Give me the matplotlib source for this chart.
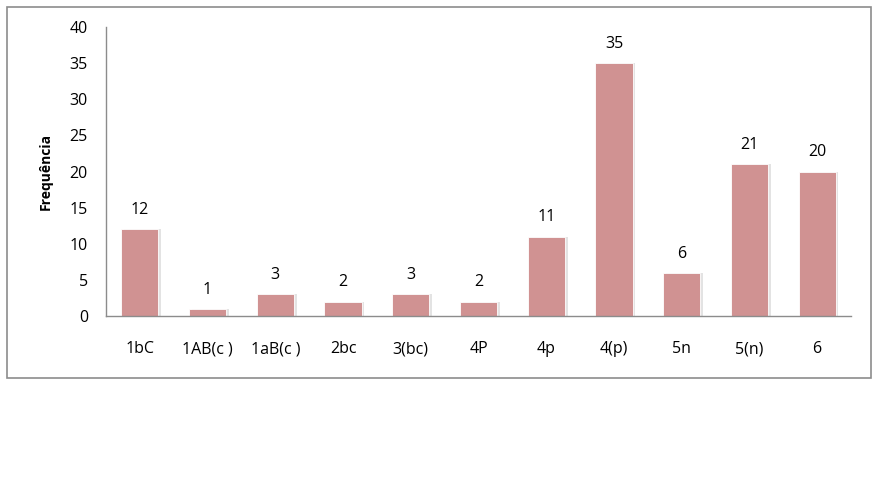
import numpy as np
import matplotlib
matplotlib.use("Agg")
import matplotlib.pyplot as plt
from matplotlib.patches import Rectangle

categories = ["1bC", "1AB(c )", "1aB(c )", "2bc", "3(bc)", "4P", "4p", "4(p)", "5n", "5(n)", "6"]
values = [12, 1, 3, 2, 3, 2, 11, 35, 6, 21, 20]
yticks = [0, 5, 10, 15, 20, 25, 30, 35, 40]

plt.rcParams['font.family'] = ['Open Sans', 'DejaVu Sans']

W, H = 878, 503
fig = plt.figure(figsize=(W / 100, H / 100), dpi=100)
fig.patch.set_facecolor('white')

# outer chart border
fig.patches.append(Rectangle((7 / W, 1 - 378 / H), 864 / W, 371 / H,
                             transform=fig.transFigure, fill=False,
                             edgecolor='#8c8c8c', linewidth=1.2))

ax = fig.add_axes([106 / W, 1 - 316 / H, 745 / W, 289 / H])
x = np.arange(len(categories))

# soft shadow behind bars
ax.bar(x + 0.04, values, width=0.55, color='#e3e3e3', zorder=1)
ax.bar(x, values, width=0.55, color='#d09292', edgecolor='white',
       linewidth=0.6, zorder=2)

for xi, v in zip(x, values):
    ax.annotate(str(v), (xi, v), xytext=(0, 8), textcoords='offset points',
                ha='center', va='bottom', fontsize=11.5, color='black')

ax.set_xlim(-0.5, len(categories) - 0.5)
ax.set_ylim(0, 40)
ax.set_yticks(yticks)
ax.set_xticks(x)
ax.set_xticklabels(categories)
ax.tick_params(axis='both', length=0, labelsize=11.5, colors='black')
ax.tick_params(axis='x', pad=18)
ax.tick_params(axis='y', pad=13)

for s in ['top', 'right']:
    ax.spines[s].set_visible(False)
for s in ['left', 'bottom']:
    ax.spines[s].set_color('#8c8c8c')
    ax.spines[s].set_linewidth(1.0)

ax.set_ylabel("Frequência", fontsize=10, fontweight='bold', labelpad=12)

fig.savefig("out.png", dpi=100)
